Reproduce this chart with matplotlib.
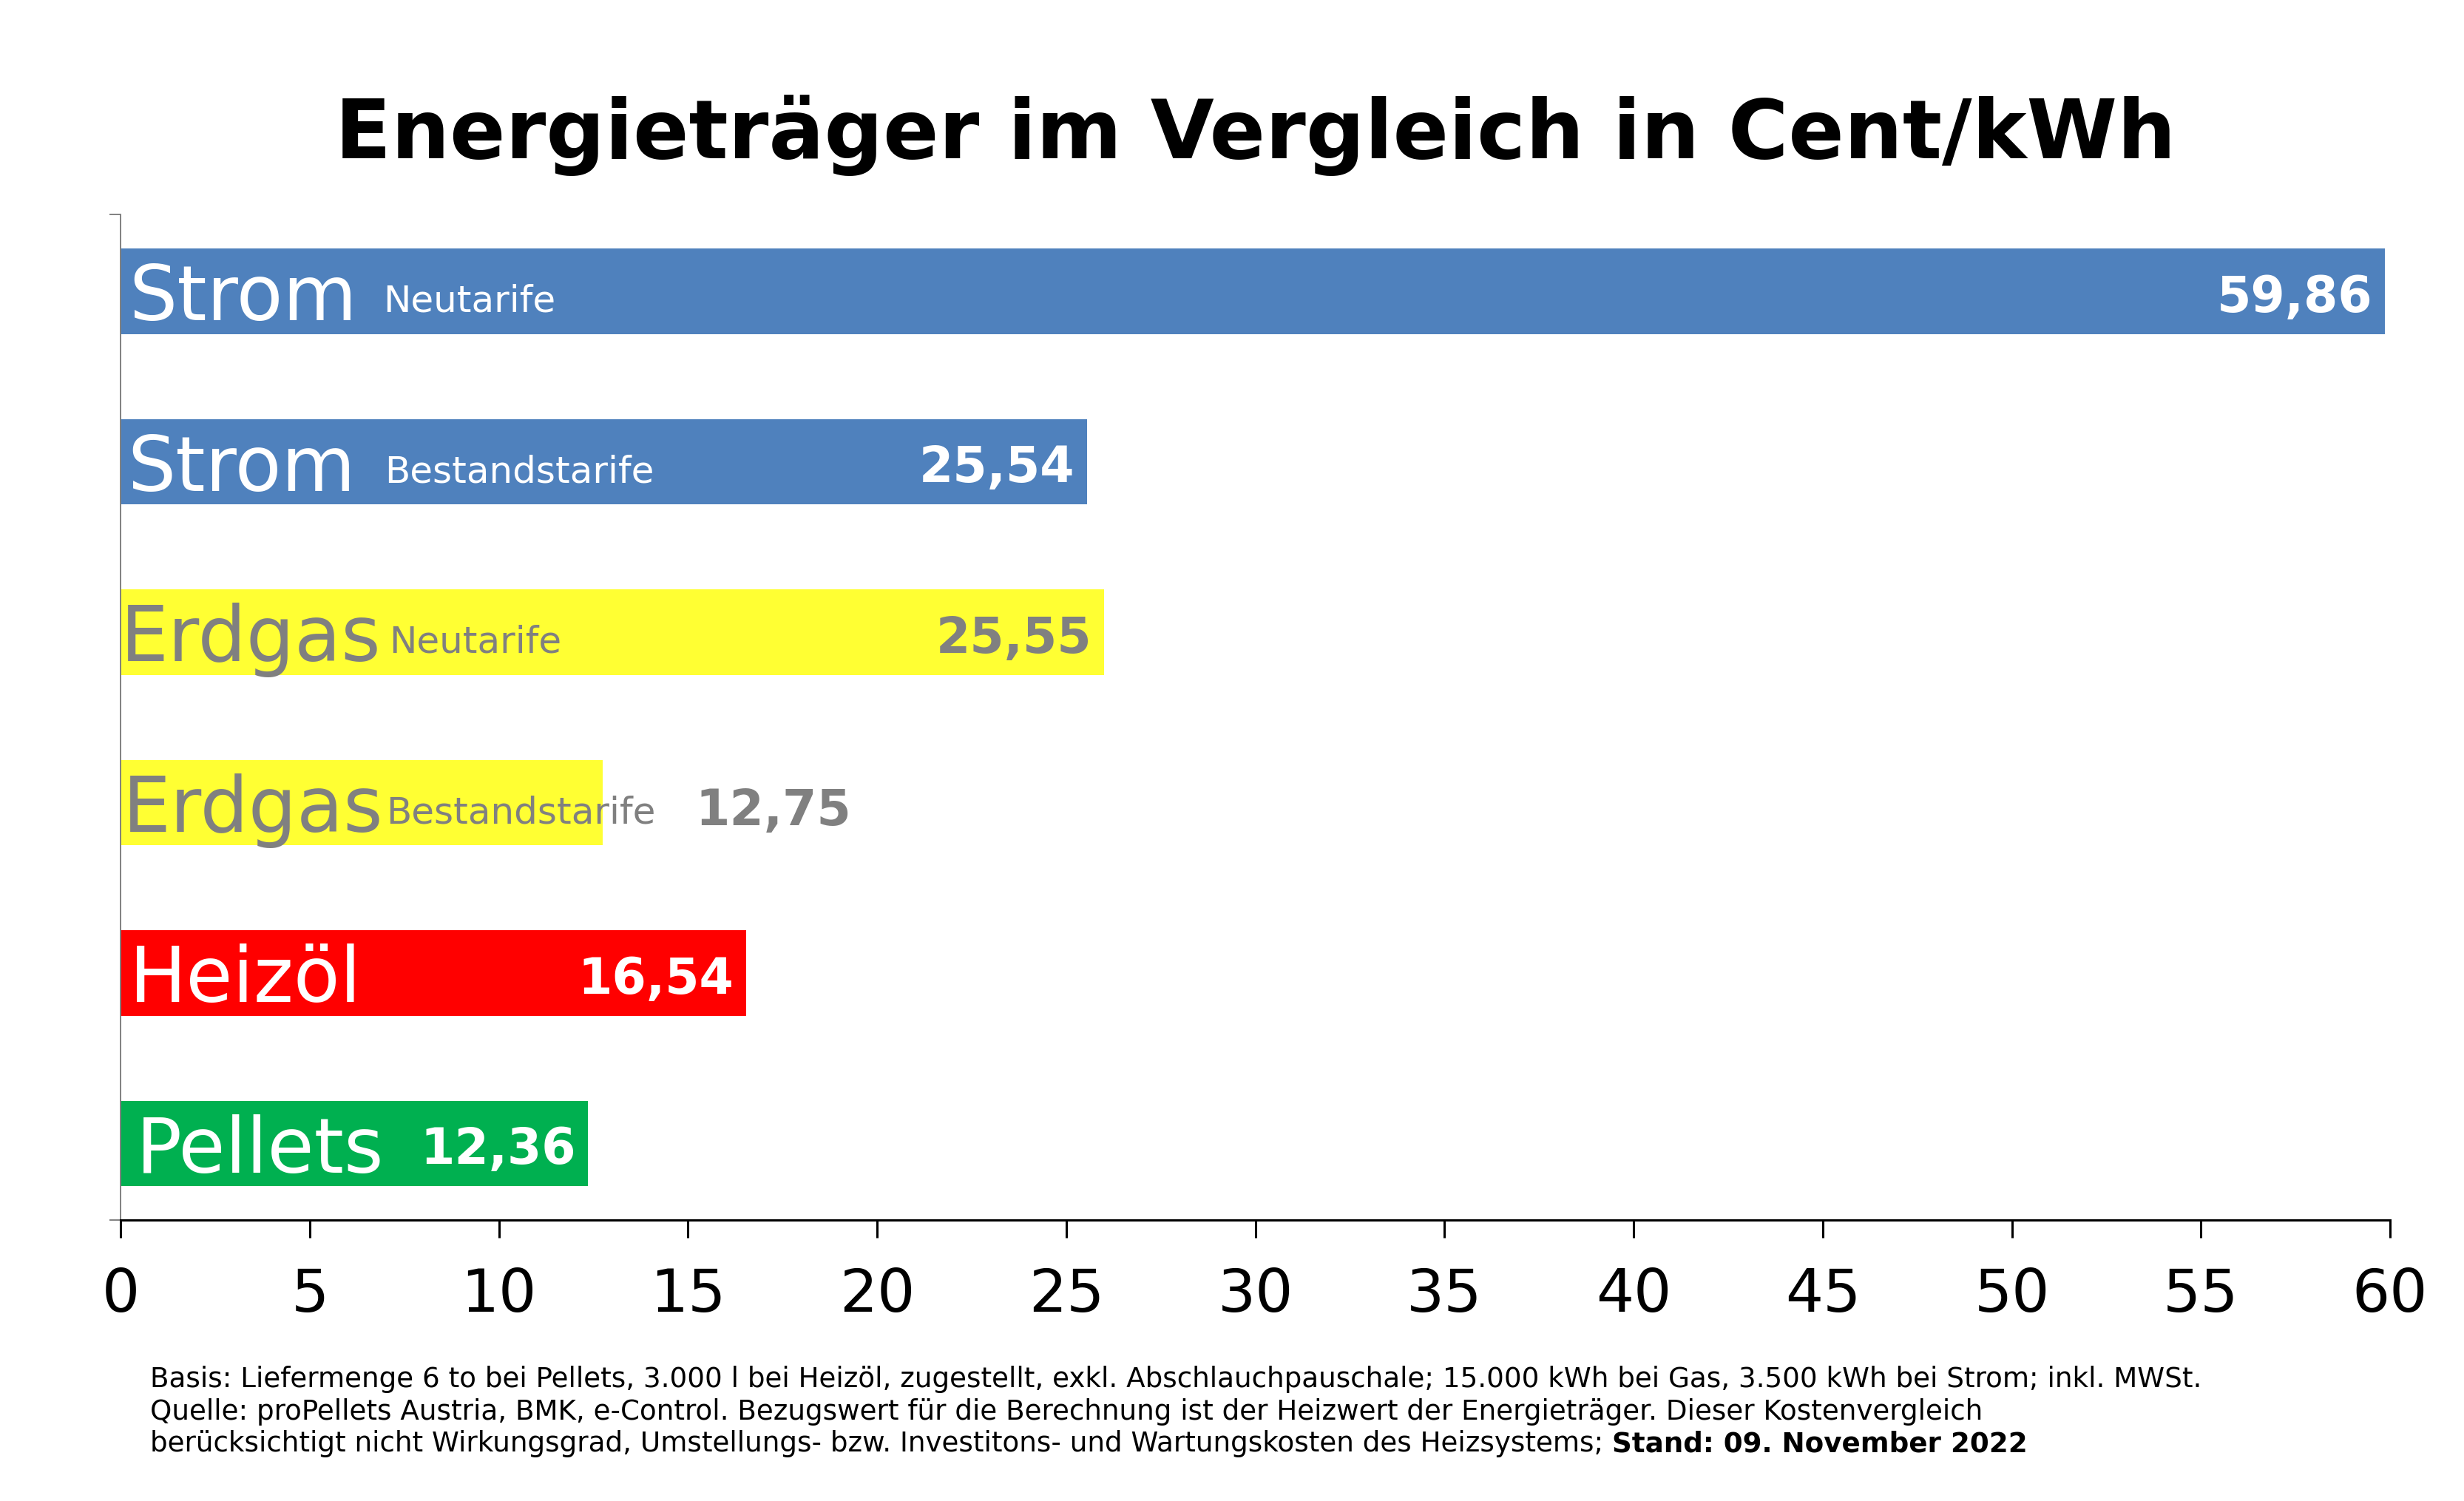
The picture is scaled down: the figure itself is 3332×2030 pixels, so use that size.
import matplotlib.pyplot as plt

# --- data ---
names = ["Strom", "Strom", "Erdgas", "Erdgas", "Heizöl", "Pellets"]
tariffs = ["Neutarife", "Bestandstarife", "Neutarife", "Bestandstarife", "", ""]
bar_values = [59.86, 25.54, 26.0, 12.75, 16.54, 12.36]   # drawn lengths
value_labels = ["59,86", "25,54", "25,55", "12,75", "16,54", "12,36"]
bar_colors = ["#4F81BD", "#4F81BD", "#FFFF33", "#FFFF33", "#FF0000", "#00B050"]
text_colors = ["white", "white", "#808080", "#808080", "white", "white"]
xticks = list(range(0, 61, 5))

title = "Energieträger im Vergleich in Cent/kWh"
foot_lines = [
    "Basis: Liefermenge 6 to bei Pellets, 3.000 l bei Heizöl, zugestellt, exkl. "
    "Abschlauchpauschale; 15.000 kWh bei Gas, 3.500 kWh bei Strom; inkl. MWSt.",
    "Quelle: proPellets Austria, BMK, e-Control. Bezugswert für die Berechnung ist "
    "der Heizwert der Energieträger. Dieser Kostenvergleich",
    "berücksichtigt nicht Wirkungsgrad, Umstellungs- bzw. Investitons- und "
    "Wartungskosten des Heizsystems; ",
]
foot_bold = "Stand: 09. November 2022"

# where the words start inside each bar (x units)
name_x = [0.22, 0.18, 0.0, 0.05, 0.22, 0.4]
sub_x = [6.93, 6.97, 7.1, 7.02, 0, 0]

plt.rcParams['font.family'] = ['DejaVu Sans']

fig = plt.figure(figsize=(16.66, 10.15), dpi=200)
ax = fig.add_axes([0.049, 0.187, 0.921, 0.670])

pos = list(range(len(names)))
ax.barh(pos, bar_values, height=0.5, color=bar_colors, zorder=2)

ax.set_xlim(0, 60)
ax.set_ylim(len(names) - 0.55, -0.45)
ax.set_xticks(xticks)
ax.set_xticklabels([str(t) for t in xticks], fontsize=29)
ax.set_yticks([-0.45, len(names) - 0.55])
ax.set_yticklabels([])

for s in ["top", "right"]:
    ax.spines[s].set_visible(False)
ax.spines["bottom"].set_linewidth(1.1)
ax.spines["left"].set_color("#808080")
ax.spines["left"].set_linewidth(0.7)
ax.tick_params(axis="x", direction="out", length=8.6, width=1.1, pad=14)
ax.tick_params(axis="y", direction="out", length=5.5, width=0.7, color="#808080")

for i in pos:
    c = text_colors[i]
    ax.text(name_x[i], i + 0.17, names[i], fontsize=37, color=c,
            va="baseline", ha="left")
    if tariffs[i]:
        ax.text(sub_x[i], i + 0.12, tariffs[i], fontsize=18, color=c,
                va="baseline", ha="left")
    if i == 3:
        # this one sits outside its bar in the original
        ax.annotate(value_labels[i], (bar_values[i], i + 0.13), xytext=(45, 0),
                    textcoords="offset points", fontsize=24, fontweight="bold",
                    color=c, va="baseline", ha="left")
    else:
        ax.annotate(value_labels[i], (bar_values[i], i + 0.12), xytext=(-6, 0),
                    textcoords="offset points", fontsize=24, fontweight="bold",
                    color=c, va="baseline", ha="right")

fig.text(0.049 + 0.921 / 2, 0.8946, title, fontsize=40, fontweight="bold",
         ha="center", va="baseline")

foot_y = [0.0757, 0.0543, 0.0328]
for line, y in zip(foot_lines, foot_y):
    last = fig.text(0.061, y, line, fontsize=13.4, ha="left", va="baseline")
# bold date right after the last footnote line
ax.annotate(foot_bold, xy=(1, 0), xycoords=last, fontsize=13.4,
            fontweight="bold", ha="left", va="bottom", annotation_clip=False)

fig.savefig("out.png", dpi=200)
